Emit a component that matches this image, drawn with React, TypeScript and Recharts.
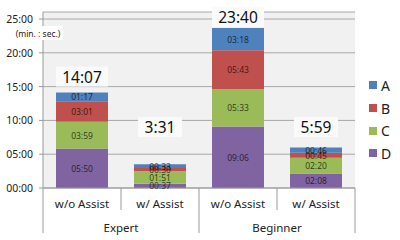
import React from 'react';
import { BarChart, Bar, XAxis, YAxis, CartesianGrid, LabelList } from 'recharts';

const categories = ['w/o Assist', 'w/ Assist', 'w/o Assist', 'w/ Assist'];
const groups = ['Expert', 'Beginner'];
const seriesNames = ['A', 'B', 'C', 'D'];
const seriesColors = ['#4f81bd', '#c0504d', '#9bbb59', '#8064a2'];
// times as mm:ss, one entry per category
const timesA = ['01:17', '00:33', '03:18', '00:46'];
const timesB = ['03:01', '00:30', '05:43', '00:45'];
const timesC = ['03:59', '01:51', '05:33', '02:20'];
const timesD = ['05:50', '00:37', '09:06', '02:08'];
const yTicks = [0, 5, 10, 15, 20, 25];

const FONT = '"Noto Sans", "Open Sans", sans-serif';

const toMin = (s: string) => {
  const [m, sec] = s.split(':').map(Number);
  return m + sec / 60;
};

const fmtTotal = (mins: number) => {
  const secs = Math.round(mins * 60);
  return `${Math.floor(secs / 60)}:${String(secs % 60).padStart(2, '0')}`;
};

const allTimes = [timesA, timesB, timesC, timesD];

const data = categories.map((cat, i) => {
  const row: any = { id: i, cat, group: groups[Math.floor(i / 2)] };
  seriesNames.forEach((s, k) => {
    row[s] = toMin(allTimes[k][i]);
    row[s + 'lbl'] = allTimes[k][i];
  });
  row.total = seriesNames.reduce((acc, s) => acc + row[s], 0);
  return row;
});

const SegmentLabel = (props: any) => {
  const vb = props.viewBox ?? props;
  const { x, y, width, height } = vb;
  return (
    <text
      x={x + width / 2}
      y={y + height / 2}
      textAnchor="middle"
      dominantBaseline="central"
      fontSize={8.5}
      fontFamily={FONT}
      fill="#000"
      fillOpacity={0.7}
    >
      {props.value}
    </text>
  );
};

const TotalLabel = (props: any) => {
  const vb = props.viewBox ?? props;
  const { x, y, width } = vb;
  const row = data[props.index];
  const txt = fmtTotal(row.total);
  const cy = Math.max(Math.min(y - 16, 127), 17);
  const w = txt.length * 8 + 12;
  const cx = x + width / 2;
  return (
    <g>
      <rect x={cx - w / 2} y={cy - 10} width={w} height={20} fill="#fafafa" />
      <text x={cx} y={cy} textAnchor="middle" dominantBaseline="central" fontSize={15.5} fontFamily={FONT} fill="#111">
        {txt}
      </text>
    </g>
  );
};

const XTick = (props: any) => {
  const { x, y, payload } = props;
  const i = payload.index ?? payload.value;
  const half = payload.offset || 39;
  const row = data[i];
  const isGroupEnd = i % 2 === 1;
  return (
    <g>
      <text x={x} y={y + 15} textAnchor="middle" dominantBaseline="central" fontSize={11.5} fontFamily={FONT} fill="#222">
        {row.cat}
      </text>
      {i === 0 && <line x1={x - half} y1={y} x2={x - half} y2={y + 45} stroke="#999" />}
      <line x1={x + half} y1={y} x2={x + half} y2={isGroupEnd ? y + 45 : y + 22} stroke="#999" />
      {isGroupEnd && (
        <text x={x - half} y={y + 39} textAnchor="middle" dominantBaseline="central" fontSize={11.5} fontFamily={FONT} fill="#222">
          {row.group}
        </text>
      )}
    </g>
  );
};

const YTick = (props: any) => {
  const { x, y, payload } = props;
  const v = payload.value;
  return (
    <g>
      <text x={x} y={y} textAnchor="end" dominantBaseline="central" fontSize={10.5} fontFamily={FONT} fill="#222">
        {`${String(v).padStart(2, '0')}:00`}
      </text>
      {v === 25 && (
        <g>
          <rect x={13} y={y + 7} width={50} height={14} fill="#fff" />
          <text x={38} y={y + 14} textAnchor="middle" dominantBaseline="central" fontSize={8.5} fontFamily={FONT} fill="#222">
            (min. : sec.)
          </text>
        </g>
      )}
    </g>
  );
};

export default function App() {
  return (
    <div style={{ position: 'relative', width: 400, height: 240, background: '#fff' }}>
      <style>{`body{margin:0}`}</style>
      <BarChart
        width={400}
        height={240}
        data={data}
        margin={{ top: 12, right: 45, bottom: 0, left: 0 }}
        barCategoryGap={13}
      >
        <CartesianGrid vertical={false} stroke="#a8a8a8" fill="#f1f1f1" />
        <XAxis
          dataKey="id"
          type="category"
          height={52}
          tickLine={false}
          tickSize={0}
          tickMargin={0}
          axisLine={{ stroke: '#999' }}
          tick={<XTick />}
          interval={0}
        />
        <YAxis
          width={43}
          domain={[0, 26.04]}
          ticks={yTicks}
          allowDataOverflow
          tickSize={4}
          tickMargin={6}
          axisLine={{ stroke: '#999' }}
          tickLine={{ stroke: '#999' }}
          tick={<YTick />}
        />
        {[...seriesNames].reverse().map((s) => (
          <Bar key={s} dataKey={s} stackId="t" fill={seriesColors[seriesNames.indexOf(s)]} isAnimationActive={false}>
            <LabelList dataKey={s + 'lbl'} content={<SegmentLabel />} />
            {s === 'A' && <LabelList dataKey="total" content={<TotalLabel />} />}
          </Bar>
        ))}
      </BarChart>
      <div style={{ position: 'absolute', left: 369, top: 74, fontFamily: FONT, fontSize: 14, color: '#222' }}>
        {seriesNames.map((s, k) => (
          <div key={s} style={{ display: 'flex', alignItems: 'center', height: 22.7 }}>
            <span style={{ width: 8, height: 8, background: seriesColors[k], marginRight: 4 }} />
            {s}
          </div>
        ))}
      </div>
    </div>
  );
}
